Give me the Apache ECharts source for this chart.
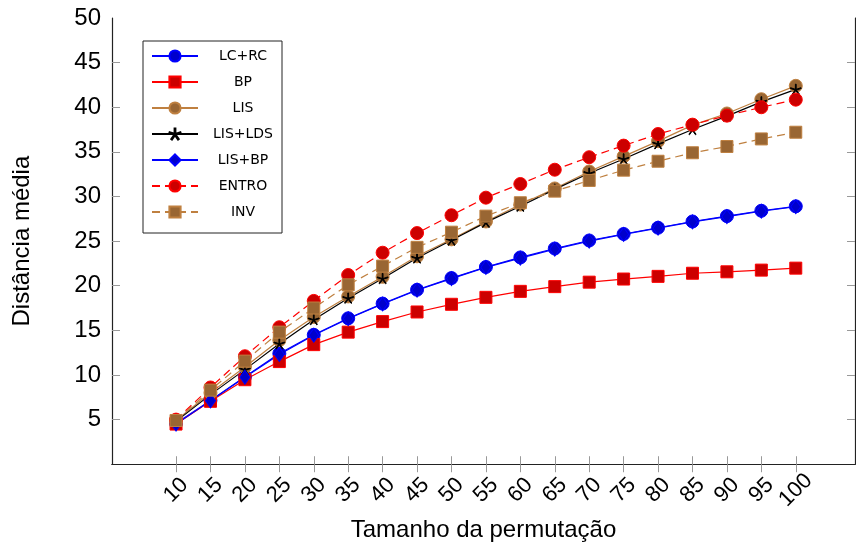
<!DOCTYPE html>
<html>
<head>
<meta charset="utf-8">
<script src="https://cdn.jsdelivr.net/npm/echarts@6/dist/echarts.min.js"></script>
<style>
  html, body { margin: 0; padding: 0; background: #fff; }
  #chart { width: 856px; height: 547px; }
</style>
</head>
<body>
<div id="chart"></div>
<script>
// tamanho da permutação
const sizes = [10, 15, 20, 25, 30, 35, 40, 45, 50, 55, 60, 65, 70, 75, 80, 85, 90, 95, 100];
const yTicks = [5, 10, 15, 20, 25, 30, 35, 40, 45, 50];

const lcrc   = [4.6, 7.15, 9.8, 12.4, 14.5, 16.35, 18.0, 19.55, 20.86, 22.1, 23.17, 24.17, 25.07, 25.8, 26.5, 27.2, 27.8, 28.4, 28.9];
const bp     = [4.5, 7.05, 9.47, 11.5, 13.4, 14.8, 15.98, 17.06, 17.92, 18.7, 19.37, 19.9, 20.4, 20.75, 21.05, 21.4, 21.56, 21.75, 21.97];
const lis    = [4.9, 8.0, 10.9, 13.9, 16.5, 18.8, 21.0, 23.3, 25.2, 27.2, 29.1, 30.9, 32.8, 34.5, 36.2, 38.0, 39.3, 40.9, 42.4];
const lislds = [4.8, 7.8, 10.6, 13.5, 16.2, 18.6, 20.8, 23.1, 25.1, 27.1, 28.9, 30.8, 32.6, 34.2, 35.9, 37.5, 39.0, 40.6, 42.0];
const lisbp  = [4.5, 7.1, 9.75, 12.3, 14.45, 16.3, 17.95, 19.5, 20.8, 22.05, 23.1, 24.1, 25.0, 25.75, 26.45, 27.15, 27.75, 28.35, 28.85];
const entro  = [5.0, 8.6, 12.1, 15.35, 18.3, 21.2, 23.7, 25.9, 27.9, 29.87, 31.4, 33.0, 34.4, 35.7, 37.0, 38.05, 39.06, 40.0, 40.85];
const inv    = [4.9, 8.3, 11.55, 14.8, 17.5, 20.1, 22.2, 24.3, 26.0, 27.8, 29.3, 30.6, 31.8, 32.95, 33.95, 34.9, 35.6, 36.45, 37.2];

// estrela de 5 braços (marca "star" do pgfplots)
function starPath() {
  let w = 0.07, d = '';
  for (let k = 0; k < 5; k++) {
    let a = (-90 + 72 * k) * Math.PI / 180;
    let ux = Math.cos(a), uy = Math.sin(a);
    let px = -uy * w, py = ux * w;
    let pts = [[px, py], [ux + px, uy + py], [ux - px, uy - py], [-px, -py]];
    d += 'M' + pts.map(p => (p[0] * 10 + 10).toFixed(3) + ' ' + (p[1] * 10 + 10).toFixed(3)).join('L') + 'Z';
  }
  return 'path://' + d;
}

const font = 'Liberation Sans';

function pairs(vals) {
  return sizes.map((s, i) => [s, vals[i]]);
}

function serie(name, vals, line, fill, symbol, size, dashed) {
  return {
    name: name,
    type: 'line',
    data: pairs(vals),
    symbol: symbol,
    symbolSize: size,
    symbolKeepAspect: true,
    lineStyle: { color: line, width: 1.2, type: dashed ? [8, 5] : 'solid' },
    itemStyle: { color: fill, borderColor: line, borderWidth: 1 },
    emphasis: { disabled: true },
    animation: false
  };
}

const tickStyle = { color: '#999', width: 1 };

let instance = echarts.init(document.getElementById('chart'));
instance.setOption({
  animation: false,
  grid: { left: 112, top: 18, right: 1, bottom: 81, show: false },
  legend: {
    orient: 'vertical',
    left: 143,
    top: 41,
    padding: [8, 9, 14, 8],
    itemGap: 12,
    itemWidth: 46,
    itemHeight: 14,
    backgroundColor: '#fff',
    borderColor: '#222',
    borderWidth: 1,
    borderRadius: 0,
    formatter: '{a|{name}}',
    textStyle: {
      fontFamily: 'DejaVu Sans',
      fontSize: 14,
      color: '#000',
      rich: { a: { width: 80, align: 'center', fontFamily: 'DejaVu Sans', fontSize: 14 } }
    }
  },
  xAxis: [{
    type: 'value',
    min: 0.7,
    max: 108.6,
    name: 'Tamanho da permutação',
    nameLocation: 'middle',
    nameGap: 53,
    nameTextStyle: { fontFamily: font, fontSize: 24, color: '#000' },
    axisLine: { show: true, lineStyle: { color: '#222', width: 1.2 } },
    axisTick: { show: true, inside: true, length: 8, customValues: sizes, lineStyle: tickStyle },
    axisLabel: {
      customValues: sizes,
      rotate: 45,
      align: 'center',
      verticalAlign: 'middle',
      margin: 26,
      fontFamily: font,
      fontSize: 22,
      color: '#000'
    },
    splitLine: { show: false }
  }, {
    type: 'value',
    position: 'top',
    min: 0.7,
    max: 108.6,
    axisLine: { show: true, lineStyle: { color: '#222', width: 1.2 } },
    axisTick: { show: true, inside: true, length: 8, customValues: sizes, lineStyle: tickStyle },
    axisLabel: { show: false },
    splitLine: { show: false }
  }],
  yAxis: [{
    type: 'value',
    min: 0,
    max: 50,
    interval: 5,
    name: 'Distância média',
    nameLocation: 'middle',
    nameGap: 78,
    nameTextStyle: { fontFamily: font, fontSize: 24, color: '#000' },
    axisLine: { show: true, lineStyle: { color: '#222', width: 1.2 } },
    axisTick: { show: true, inside: true, length: 8, customValues: yTicks.slice(0, 9), lineStyle: tickStyle },
    axisLabel: { customValues: yTicks, margin: 11, fontFamily: font, fontSize: 24, color: '#000' },
    splitLine: { show: false }
  }, {
    type: 'value',
    position: 'right',
    min: 0,
    max: 50,
    interval: 5,
    axisLine: { show: true, lineStyle: { color: '#222', width: 1.2 } },
    axisTick: { show: true, inside: true, length: 8, customValues: yTicks.slice(0, 9), lineStyle: tickStyle },
    axisLabel: { show: false },
    splitLine: { show: false }
  }],
  series: [
    serie('LC+RC', lcrc, '#0000ff', '#0000cc', 'circle', 13, false),
    serie('BP', bp, '#ff0000', '#cc0000', 'rect', 12, false),
    serie('LIS', lis, '#bf8040', '#996633', 'circle', 13, false),
    serie('LIS+LDS', lislds, '#000000', '#000000', starPath(), 11, false),
    serie('LIS+BP', lisbp, '#0000ff', '#0000cc', 'diamond', [10, 14], false),
    serie('ENTRO', entro, '#ff0000', '#cc0000', 'circle', 13, true),
    serie('INV', inv, '#bf8040', '#996633', 'rect', 12, true)
  ]
});
window.onresize = () => {
  instance.resize();
};
</script>
</body>
</html>
